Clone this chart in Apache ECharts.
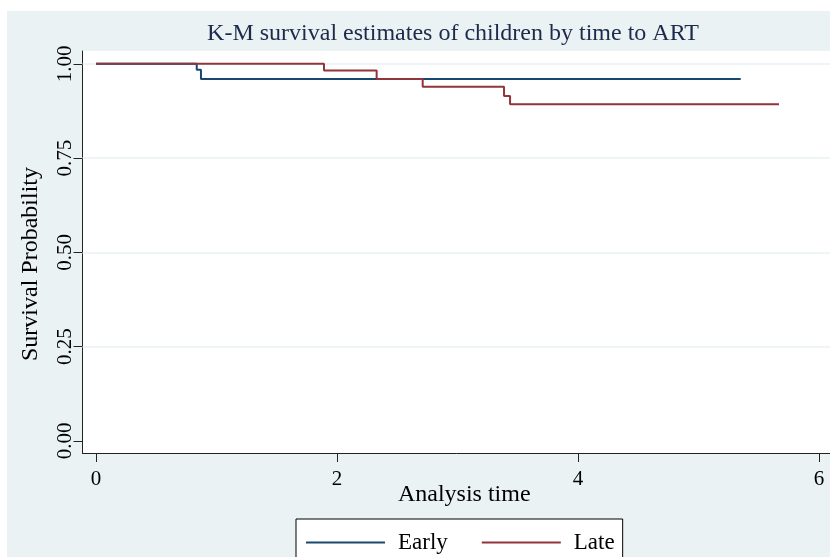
<!DOCTYPE html>
<html>
<head>
<meta charset="utf-8">
<script src="https://cdn.jsdelivr.net/npm/echarts@6/dist/echarts.min.js"></script>
<style>
html,body{margin:0;padding:0;background:#ffffff;width:830px;height:557px;overflow:hidden;}
#chart{position:absolute;left:7px;top:11px;width:823px;height:546px;}
</style>
</head>
<body>
<div id="chart"></div>
<script>
var titleText = 'K-M survival estimates of children by time to ART';
var seriesNames = ['Early', 'Late'];
var earlyTime = [0, 0.836, 0.871, 5.35];
var earlySurv = [1, 0.984, 0.960, 0.960];
var lateTime = [0, 1.892, 2.329, 2.711, 3.386, 3.436, 5.668];
var lateSurv = [1, 0.982, 0.960, 0.939, 0.915, 0.893, 0.893];
var xTicks = [0, 2, 4, 6];
var yTicks = [0, 0.25, 0.5, 0.75, 1];
var yGrid = [0.25, 0.5, 0.75, 1];

function pairs(t, s) { return t.map(function (v, i) { return [v, s[i]]; }); }

var font = "'Liberation Serif', 'Times New Roman', serif";
var chart = echarts.init(document.getElementById('chart'), null, { renderer: 'canvas' });
chart.setOption({
  backgroundColor: '#eaf2f3',
  animation: false,
  textStyle: { fontFamily: font },
  title: {
    text: titleText,
    left: 441,
    top: 6,
    textAlign: 'center',
    textStyle: { fontFamily: font, fontSize: 24, fontWeight: 'normal', color: '#1c2a4c' }
  },
  grid: {
    left: 75.5, top: 40, right: 0, bottom: 104,
    show: true, backgroundColor: '#ffffff', borderWidth: 0
  },
  xAxis: {
    type: 'value', min: -0.112, max: 6.091,
    name: 'Analysis time', nameLocation: 'middle', nameGap: 30, nameMoveOverlap: false,
    nameTextStyle: { fontFamily: font, fontSize: 24, color: '#000', padding: [0, 0, 0, 16] },
    axisLine: { show: true, onZero: false, lineStyle: { color: '#222', width: 1 } },
    axisTick: { show: true, length: 9, customValues: xTicks, lineStyle: { color: '#222' } },
    axisLabel: { customValues: xTicks, margin: 16, fontFamily: font, fontSize: 21, color: '#000' },
    splitLine: { show: false }
  },
  yAxis: {
    type: 'value', min: -0.032, max: 1.034,
    name: 'Survival Probability', nameLocation: 'middle', nameGap: 40, nameMoveOverlap: false,
    nameTextStyle: { fontFamily: font, fontSize: 24, color: '#000', padding: [0, 24, 0, 0] },
    axisLine: { show: true, onZero: false, lineStyle: { color: '#222', width: 1 } },
    axisTick: { show: true, length: 9, customValues: yTicks, lineStyle: { color: '#222' } },
    axisLabel: {
      customValues: yTicks, rotate: 90, margin: 7, fontFamily: font, fontSize: 21, color: '#000',
      formatter: function (v) { return v.toFixed(2); }
    },
    splitLine: { show: false }
  },
  legend: {
    data: seriesNames,
    left: 289, top: 508,
    orient: 'horizontal',
    icon: 'rect', itemWidth: 79, itemHeight: 2, itemGap: 34,
    padding: [12, 8, 14, 10],
    backgroundColor: '#ffffff', borderColor: '#000', borderWidth: 1,
    textStyle: { fontFamily: font, fontSize: 23, color: '#000', padding: [0, 0, 0, 8] }
  },
  series: [
    {
      name: seriesNames[0], type: 'line', step: 'end', symbol: 'none',
      data: pairs(earlyTime, earlySurv),
      lineStyle: { color: '#1a476f', width: 2 }, itemStyle: { color: '#1a476f' },
      markLine: {
        silent: true, symbol: 'none', label: { show: false },
        lineStyle: { color: '#eaf2f3', width: 1.5, type: 'solid' },
        data: yGrid.map(function (v) { return { yAxis: v }; }),
        z: 1
      },
      z: 3
    },
    {
      name: seriesNames[1], type: 'line', step: 'end', symbol: 'none',
      data: pairs(lateTime, lateSurv),
      lineStyle: { color: '#90353b', width: 2 }, itemStyle: { color: '#90353b' },
      z: 4
    }
  ]
});
</script>
</body>
</html>
